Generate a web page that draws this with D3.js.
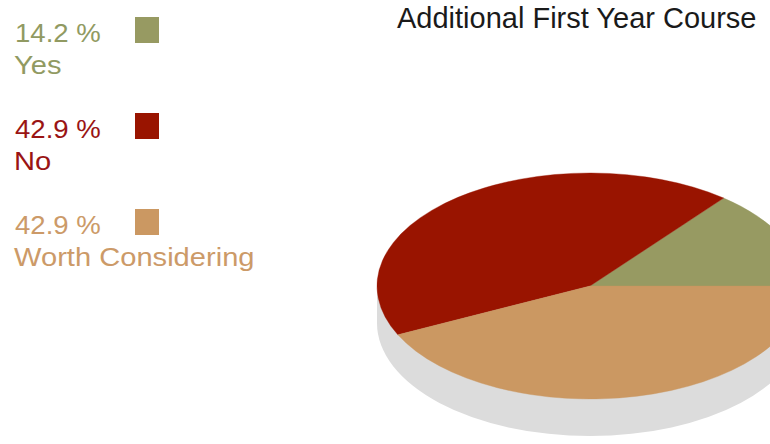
<!DOCTYPE html>
<html>
<head>
<meta charset="utf-8">
<script src="https://cdn.jsdelivr.net/npm/d3@7"></script>
<style>
  body { margin: 0; background: #fff; }
  svg { display: block; font-family: "Liberation Sans", Arial, sans-serif; }
</style>
</head>
<body>
<div id="chart"></div>
<script>
var categories = ["Yes", "No", "Worth Considering"];
var percents = [14.2, 42.9, 42.9];
var colors = ["#979a62", "#991400", "#cb9862"];
var textColors = ["#919a62", "#9a1414", "#cc9a68"];

var width = 770, height = 444;

var svg = d3.select("#chart")
  .append("svg")
    .attr("width", width)
    .attr("height", height);

// title
svg.append("text")
    .attr("x", 397)
    .attr("y", 28)
    .style("font-size", "29px")
    .style("fill", "#1a1a1a")
    .text("Additional First Year Course");

// legend
var legend = svg.selectAll(".legend")
  .data(categories)
  .enter().append("g")
    .attr("class", "legend")
    .attr("transform", function(d, i) { return "translate(0," + i * 96 + ")"; });

legend.append("text")
    .attr("x", 15)
    .attr("y", 42)
    .attr("transform", "translate(15,0) scale(1.06,1) translate(-15,0)")
    .style("font-size", "26px")
    .style("fill", function(d, i) { return textColors[i]; })
    .text(function(d, i) { return d3.format(".1f")(percents[i]) + " %"; });

legend.append("text")
    .attr("x", 14)
    .attr("y", 74)
    .attr("transform", "translate(14,0) scale(1.12,1) translate(-14,0)")
    .style("font-size", "26px")
    .style("fill", function(d, i) { return textColors[i]; })
    .text(function(d) { return d; });

legend.append("rect")
    .attr("x", 135)
    .attr("y", 17)
    .attr("width", 24)
    .attr("height", 26)
    .style("fill", function(d, i) { return colors[i]; });

// 3d pie
var cx = 590, cy = 286, rx = 213, ry = 113, depth = 37;

var side = svg.append("g");
side.append("ellipse")
    .attr("cx", cx)
    .attr("cy", cy + depth)
    .attr("rx", rx)
    .attr("ry", ry)
    .style("fill", "#dcdcdc");
side.append("rect")
    .attr("x", cx - rx)
    .attr("y", cy)
    .attr("width", rx * 2)
    .attr("height", depth)
    .style("fill", "#dcdcdc");

// start at 3 o'clock and go counterclockwise
var pie = d3.pie()
    .sort(null)
    .startAngle(Math.PI / 2)
    .endAngle(Math.PI / 2 - 2 * Math.PI)
    .value(function(d) { return d; });

var arc = d3.arc().innerRadius(0).outerRadius(rx);

var pieTop = svg.append("g")
    .attr("transform", "translate(" + cx + "," + cy + ") scale(1," + (ry / rx) + ")");

pieTop.selectAll("path")
  .data(pie(percents))
  .enter().append("path")
    .attr("d", arc)
    .style("fill", function(d, i) { return colors[i]; })
    .style("stroke", function(d, i) { return colors[i]; })
    .style("stroke-width", 0.5);
</script>
</body>
</html>
